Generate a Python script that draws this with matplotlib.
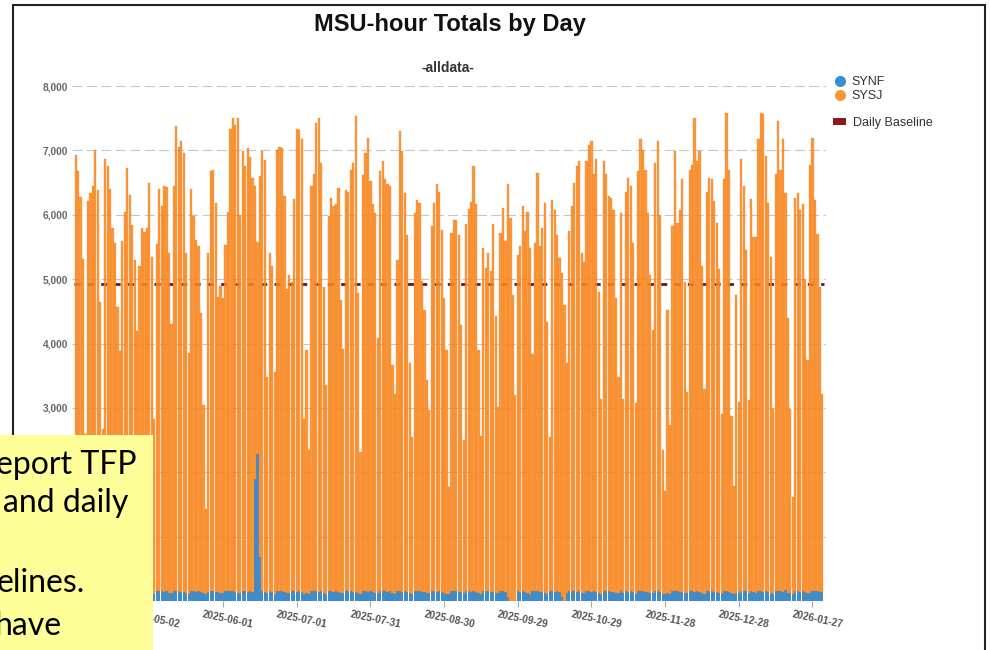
import matplotlib
matplotlib.use("Agg")
import matplotlib.pyplot as plt
import matplotlib.transforms as mtransforms
from matplotlib.lines import Line2D
from matplotlib.patches import Patch, Rectangle
import numpy as np
import pandas as pd

# ---------------- data ----------------
start_date = "2025-04-02"

# daily total MSU-hours (top of each stacked bar)
daily_total = [
    6935, 6675, 6275, 5310, 2600, 6210, 6340, 6440, 7010, 6390,
    4650, 2675, 6865, 6750, 6400, 5800, 5560, 4560, 3880, 5600,
    6050, 6720, 6300, 5840, 5300, 4200, 5200, 5790, 5730, 5790,
    6490, 5340, 2820, 5550, 6400, 6140, 6450, 6430, 5400, 4300,
    6450, 7380, 7050, 7150, 6960, 5400, 3850, 6400, 5980, 5600,
    5520, 4470, 3040, 1430, 5400, 6680, 6700, 6180, 4730, 4900,
    4700, 5530, 6040, 7330, 7510, 7390, 7510, 6000, 6990, 6750,
    7030, 6900, 6570, 6440, 5580, 6600, 6990, 6850, 3480, 5400,
    5200, 3560, 7010, 7060, 7030, 6290, 4840, 5070, 4950, 6250,
    7330, 7310, 7180, 2830, 3900, 2340, 6440, 6630, 7430, 7510,
    6805, 4880, 3350, 5975, 6260, 6130, 6160, 6420, 4680, 3920,
    6390, 6360, 6700, 6805, 7530, 4780, 2310, 6610, 6960, 7190,
    6520, 6160, 6030, 4080, 6680, 6830, 6550, 6470, 6440, 3660,
    3220, 5300, 7300, 6990, 6340, 5690, 3690, 2550, 6030, 6230,
    6180, 4970, 4520, 3430, 2960, 5820, 6180, 6470, 6360, 5770,
    4700, 3900, 1770, 5720, 5920, 5920, 5690, 4290, 2500, 5850,
    6090, 6200, 6750, 6170, 3900, 2570, 5480, 5170, 5400, 5120,
    5850, 4420, 3010, 5720, 6100, 5590, 6470, 5950, 4750, 3200,
    5380, 5510, 6130, 5740, 6050, 5480, 3840, 5560, 6650, 5510,
    5800, 6180, 4340, 2550, 6230, 6080, 5690, 5330, 5100, 4600,
    3690, 5740, 6130, 6490, 6750, 6830, 5400, 5260, 6830, 7090,
    7140, 6630, 6860, 4800, 3140, 6830, 6630, 6290, 6260, 6080,
    4700, 3480, 6030, 3140, 6360, 6570, 6440, 5560, 3070, 6680,
    7170, 7010, 6700, 6030, 5070, 4210, 6800, 7140, 5990, 2340,
    1710, 4520, 2730, 5820, 6990, 5870, 6080, 6550, 4950, 3250,
    6700, 6780, 7510, 6830, 6990, 5200, 3300, 6360, 6570, 6550,
    6210, 5870, 5150, 2910, 6550, 7580, 6700, 2880, 1790, 4750,
    3090, 6860, 6440, 5450, 3120, 6250, 5650, 5650, 7170, 7580,
    7560, 6910, 6190, 5350, 2990, 6630, 7450, 6700, 7170, 6340,
    4390, 2990, 1610, 6260, 6340, 6080, 6160, 5000, 3740, 6780,
    7190, 6230, 5700, 4880, 3220,
]

# SYNF MSU-hours per day (bottom segment)
synf = [
    150, 145, 140, 135, 120, 150, 155, 150, 145, 140,
    130, 115, 150, 150, 155, 145, 140, 125, 115, 150,
    155, 150, 145, 140, 130, 120, 150, 150, 145, 150,
    140, 130, 115, 150, 155, 150, 145, 150, 130, 120,
    150, 150, 155, 145, 140, 130, 115, 150, 150, 145,
    150, 140, 125, 110, 140, 150, 150, 145, 140, 130,
    120, 150, 155, 150, 150, 145, 130, 120, 150, 150,
    145, 150, 140, 1890, 2290, 690, 150, 145, 120, 150,
    145, 115, 150, 155, 150, 145, 130, 120, 150, 150,
    145, 150, 140, 115, 120, 110, 150, 155, 150, 145,
    150, 130, 115, 150, 150, 145, 150, 140, 130, 120,
    150, 155, 150, 145, 140, 130, 115, 150, 150, 145,
    150, 140, 130, 120, 150, 155, 150, 145, 150, 130,
    115, 150, 150, 145, 150, 140, 130, 115, 150, 155,
    150, 145, 140, 130, 120, 150, 150, 145, 150, 140,
    130, 115, 110, 150, 155, 150, 145, 140, 120, 150,
    150, 145, 150, 140, 130, 115, 150, 155, 150, 145,
    140, 130, 120, 150, 150, 145, 60, 0, 0, 0,
    150, 145, 150, 140, 130, 115, 150, 155, 150, 145,
    140, 130, 115, 150, 150, 145, 150, 140, 60, 0,
    130, 150, 155, 150, 145, 150, 130, 120, 150, 150,
    145, 150, 140, 130, 115, 150, 155, 150, 145, 140,
    130, 120, 150, 120, 150, 145, 150, 140, 115, 150,
    155, 150, 145, 140, 130, 120, 150, 150, 145, 115,
    110, 125, 115, 150, 155, 150, 145, 140, 130, 120,
    150, 150, 145, 150, 140, 130, 115, 150, 155, 150,
    145, 140, 130, 120, 150, 150, 145, 120, 110, 130,
    120, 150, 155, 150, 120, 150, 140, 125, 150, 150,
    145, 150, 140, 130, 115, 150, 155, 150, 145, 175,
    130, 120, 115, 150, 150, 145, 150, 140, 130, 120,
    150, 155, 150, 145, 140,
]

baseline_value = 4930
y_ticks = [0, 1000, 2000, 3000, 4000, 5000, 6000, 7000, 8000]
label_every = 30

title_text = "MSU-hour Totals by Day"
subtitle_text = "-alldata-"
series_names = ["SYNF", "SYSJ"]
baseline_name = "Daily Baseline"
note_lines = ["eport TFP", "and daily", "elines.", "have"]

# ---------------- derived ----------------
n = len(daily_total)
dates = pd.date_range(start_date, periods=n, freq="D")
synf_arr = np.array(synf, dtype=float)
sysj_arr = np.array(daily_total, dtype=float) - synf_arr
x = np.arange(n)

# ---------------- styling ----------------
ORANGE = "#fa8820"
BLUE = "#2a80c2"
ORANGE_LEG = "#ff9636"
BLUE_LEG = "#3a8fd3"
BASE_RED = "#8b1a1a"
BASE_LINE = "#5e1830"
FONT = "Liberation Sans"

W, H = 990, 650
fig = plt.figure(figsize=(W / 100, H / 100), dpi=100)


def fx(px):
    return px / W


def fy(py):
    return 1 - py / H


ax = fig.add_axes([fx(72), fy(601), fx(826) - fx(72), fy(86) - fy(601)])

ax.bar(x, synf_arr, width=0.9, color=BLUE, alpha=0.9, linewidth=0, zorder=3)
ax.bar(x, sysj_arr, bottom=synf_arr, width=0.9, color=ORANGE, alpha=0.86,
       edgecolor="#ef7d12", linewidth=0.25, zorder=3)

ax.hlines(baseline_value, -0.5, n - 0.5, colors=BASE_LINE, linewidth=2.0,
          linestyles=(0, (2.2, 2.6)), zorder=2)

ax.set_xlim(-1.5, n + 0.5)
ax.set_ylim(0, 8000)
ax.set_yticks(y_ticks)
ax.set_yticklabels([f"{v:,}" for v in y_ticks])
ax.yaxis.grid(True, color="#c3c6cc", linewidth=0.8, linestyle=(0, (9, 4)), zorder=0)
ax.set_axisbelow(True)
for s in ax.spines.values():
    s.set_visible(False)

tick_idx = list(range(0, n, label_every))
ax.set_xticks(tick_idx)
ax.set_xticklabels([dates[i].strftime("%Y-%m-%d") for i in tick_idx])

ax.tick_params(axis="y", length=0, pad=3, labelsize=7.3, labelcolor="#666666")
ax.tick_params(axis="x", length=4, width=0.8, color="#aaaaaa", pad=2,
               labelsize=7.3, labelcolor="#555555")

# labels that sit fully underneath the yellow note box are not visible in the slide
hidden_under_note_y = [0, 1000, 2000]
for v, lbl in zip(y_ticks, ax.get_yticklabels()):
    lbl.set_fontweight("bold")
    lbl.set_fontfamily(FONT)
    if v in hidden_under_note_y:
        lbl.set_visible(False)
offset = mtransforms.ScaledTranslation(5 / 100, 0, fig.dpi_scale_trans)
for i, lbl in zip(tick_idx, ax.get_xticklabels()):
    lbl.set_fontweight("bold")
    lbl.set_fontfamily(FONT)
    lbl.set_rotation(-12)
    lbl.set_ha("center")
    lbl.set_transform(lbl.get_transform() + offset)
    if i == 0:
        lbl.set_visible(False)

# titles
fig.text(fx(450), fy(25), title_text, ha="center", va="center",
         fontsize=17, fontweight="bold", family=FONT, color="#111111")
fig.text(fx(448), fy(68), subtitle_text, ha="center", va="center",
         fontsize=10, fontweight="bold", family=FONT, color="#333333")

# legends
h1 = [Line2D([], [], ls="", marker="o", markersize=7, markerfacecolor=BLUE_LEG,
             markeredgecolor=BLUE_LEG, label=series_names[0]),
      Line2D([], [], ls="", marker="o", markersize=7, markerfacecolor=ORANGE_LEG,
             markeredgecolor=ORANGE_LEG, label=series_names[1])]
leg1 = fig.legend(handles=h1, loc="upper left", bbox_to_anchor=(fx(835), fy(76)),
                  frameon=False, handlelength=0.8, handletextpad=0.5,
                  labelspacing=0.15, borderpad=0, borderaxespad=0,
                  labelcolor="#333333", prop={"family": FONT, "size": 9})
h2 = [Patch(facecolor=BASE_RED, edgecolor="none", label=baseline_name)]
leg2 = fig.legend(handles=h2, loc="upper left", bbox_to_anchor=(fx(832.7), fy(117)),
                  frameon=False, handlelength=1.1, handleheight=0.5, handletextpad=0.5,
                  borderpad=0, borderaxespad=0, labelcolor="#333333",
                  prop={"family": FONT, "size": 9})

# outer chart frame
fig.add_artist(Rectangle((fx(13), fy(720)), fx(985) - fx(13), fy(5) - fy(720),
                         transform=fig.transFigure, fill=False, edgecolor="#222222",
                         linewidth=1.5, zorder=1))

# overlapping yellow note box (slide annotation, cut at the left edge as in the slide)
fig.add_artist(Rectangle((0, 0), fx(152.5), fy(435), transform=fig.transFigure,
                         facecolor="#ffff99", edgecolor="none", zorder=10))
note_pos = [(-4, 474), (3, 511.5), (-3, 591.5), (-5, 635)]
for (px, py), t in zip(note_pos, note_lines):
    fig.text(fx(px), fy(py), t, ha="left", va="baseline", fontsize=23,
             family="Lato", color="#000000", zorder=11)

fig.savefig("out.png", dpi=100)
